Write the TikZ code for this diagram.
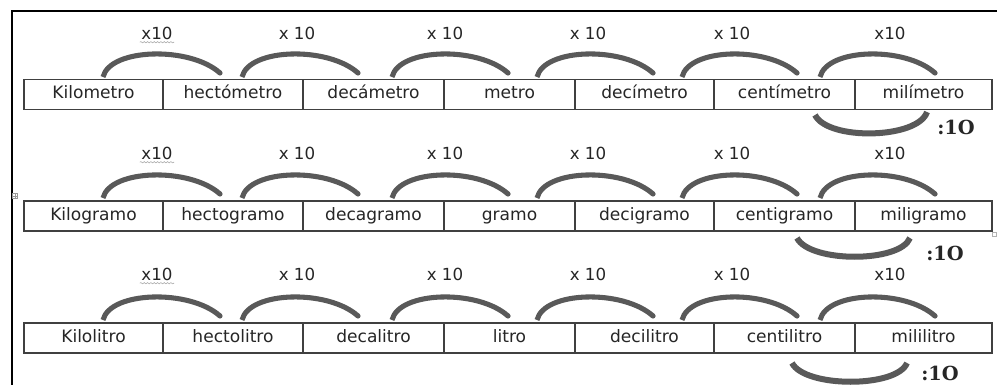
\documentclass[tikz,border=0pt]{standalone}
\usepackage{fontspec}
\setmainfont{DejaVu Sans}
\newfontfamily\divfont{DejaVu Serif}
\usetikzlibrary{calc,decorations.pathmorphing}
\begin{document}
\begin{tikzpicture}[x=0.75pt,y=-0.75pt,
  cell/.style={draw=black!75, line width=0.8pt, minimum height=22.5pt, inner sep=0pt,
    text height=9.3pt, text depth=2.6pt,
    font=\fontsize{12.8}{14}\selectfont, text=black!85},
  mul/.style={font=\fontsize{12.5}{14}\selectfont, text=black!85, inner sep=1pt},
  divlbl/.style={font=\divfont\bfseries\fontsize{14.5}{16}\selectfont, text=black!85},
  arcline/.style={draw=black!65, line width=3.8pt},
  darcline/.style={draw=black!65, line width=4.5pt},
  squiggle/.style={draw=black!35, line width=0.4pt, decorate,
    decoration={snake, amplitude=0.5pt, segment length=2.5pt}},
  frame/.style={draw=black, line width=1.6pt}]
\useasboundingbox (0,0) rectangle (997,385);
\fill[white] (0,0) rectangle (997,385);
% frame
\coordinate (fb) at (12,385);
\coordinate (fc) at (12,11);
\coordinate (fr) at (997,11);
\draw[frame] (fb) -- (fc) -- (fr);
% rows of cells
\foreach \i/\l/\r/\t in {1/24/163/Kilometro, 2/163/303/hectómetro, 3/303/444/decámetro,
    4/444/575/metro, 5/575/714/decímetro, 6/714/855/centímetro, 7/855/992/milímetro}
  \node[cell, minimum width={(\r-\l)*0.75pt}] (m\i) at ({(\l+\r)/2},94.5) {\t};
\foreach \i/\l/\r/\t in {1/24/163/Kilogramo, 2/163/303/hectogramo, 3/303/444/decagramo,
    4/444/575/gramo, 5/575/714/decigramo, 6/714/855/centigramo, 7/855/992/miligramo}
  \node[cell, minimum width={(\r-\l)*0.75pt}] (g\i) at ({(\l+\r)/2},216) {\t};
\foreach \i/\l/\r/\t in {1/24/163/Kilolitro, 2/163/303/hectolitro, 3/303/444/decalitro,
    4/444/575/litro, 5/575/714/decilitro, 6/714/855/centilitro, 7/855/992/mililitro}
  \node[cell, minimum width={(\r-\l)*0.75pt}] (l\i) at ({(\l+\r)/2},338) {\t};
% upper arcs and labels
\foreach \rw/\dy/\ly in {m/0/33, g/121/153, l/243/274} {
  \foreach \i/\a/\b/\lx/\lt in {1/103/220/157/x10, 2/242/358/297/x 10, 3/392/508/445/x 10,
      4/537/653/588/x 10, 5/682/797/732/x 10, 6/820/935/890/x10} {
    \coordinate (\rw s\i) at (\a,{77+\dy});
    \coordinate (\rw e\i) at (\b,{73+\dy});
    \draw[arcline] (\rw s\i) .. controls ({\a+7},{48+\dy}) and ({\b-30},{46+\dy}) .. (\rw e\i);
    \fill[black!65] (\rw e\i) circle (2.6);
    \node[mul] (\rw x\i) at (\lx,\ly) {\lt};
  }
  \draw[squiggle] ([yshift=-1pt]\rw x1.south west) -- ([yshift=-1pt]\rw x1.south east);
}
% lower arcs
\coordinate (ma) at (815,115); \coordinate (mb) at (927,112);
\draw[darcline] (ma) .. controls (828,141) and (918,139) .. (mb);
\node[divlbl] (md) at (956,127) {:1O};
\coordinate (ga) at (797,238); \coordinate (gb) at (910,238);
\draw[darcline] (ga) .. controls (810,263) and (900,263) .. (gb);
\node[divlbl] (gd) at (945,253) {:1O};
\coordinate (la) at (792,363); \coordinate (lb) at (907,363);
\draw[darcline] (la) .. controls (805,388) and (897,388) .. (lb);
\node[divlbl] (ld) at (940,373) {:1O};
% table handles
\node[draw=black!40, line width=0.3pt, minimum size=4pt, inner sep=0pt] (hnd) at (15,196) {};
\draw[black!40, line width=0.3pt] (hnd.north) -- (hnd.south) (hnd.west) -- (hnd.east);
\node[draw=black!30, line width=0.3pt, minimum size=3pt, inner sep=0pt] (rsz) at (994,234) {};
\end{tikzpicture}
\end{document}
